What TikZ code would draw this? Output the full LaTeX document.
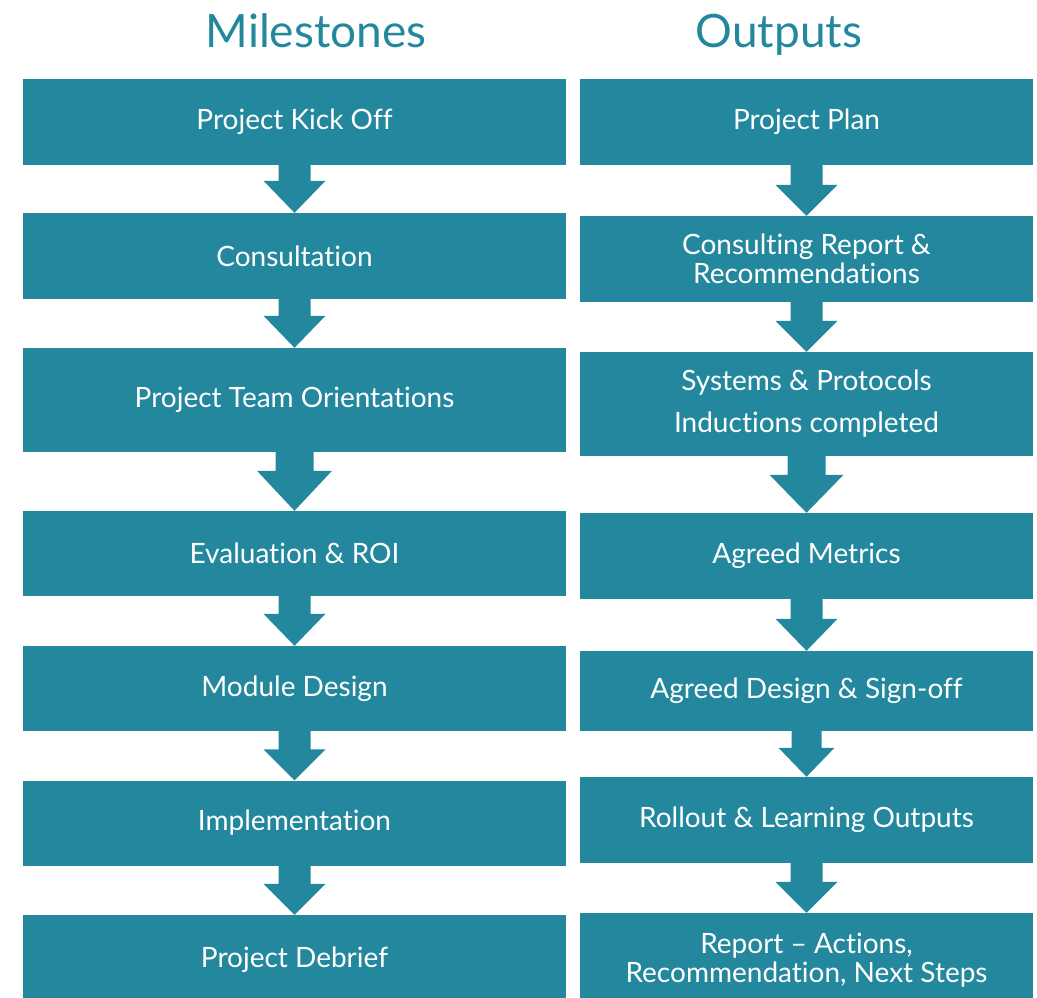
\documentclass[tikz,border=0pt]{standalone}
\usepackage{fontspec}
\setmainfont{Lato}[Ligatures=NoCommon]
\usetikzlibrary{calc}
\definecolor{tealc}{RGB}{35,136,157}
\tikzset{
  box/.style={rectangle, fill=tealc, draw=none, text=white, inner sep=0pt, align=center,
    font=\fontsize{28}{29}\selectfont},
  lbox/.style={box, minimum width=543pt},
  rbox/.style={box, minimum width=453pt},
  title/.style={text=tealc, font=\fontsize{46}{50}\selectfont, inner sep=0pt, anchor=base},
  arr/.style={fill=tealc, draw=none}
}
\newcommand\blockarrow[5]{%
  \path[arr] let \p1=(#1.south), \p2=(#2.north) in
    (\x1-#3pt,\y1+0.5pt) -- (\x1+#3pt,\y1+0.5pt) -- (\x1+#3pt,\y2+#5pt) -- (\x1+#4pt,\y2+#5pt)
    -- (\x1,\y2) -- (\x1-#4pt,\y2+#5pt) -- (\x1-#3pt,\y2+#5pt) -- cycle;}
\begin{document}
\begin{tikzpicture}[x=1pt,y=-1pt]
\useasboundingbox (0,0) rectangle (1037,997);
\clip (0,0) rectangle (1037,997);
\node[title] (t1) at (316,47) {Milestones};
\node[title] (t2) at (779,47) {Outputs};
% left column
\node[lbox, minimum height=86pt] (l1) at (294.5,122) {Project Kick Off};
\node[lbox, minimum height=86pt] (l2) at (294.5,256) {Consultation};
\node[lbox, minimum height=104pt] (l3) at (294.5,400) {Project Team Orientations};
\node[lbox, minimum height=85pt] (l4) at (294.5,553.5) {Evaluation \& ROI};
\node[lbox, minimum height=85pt] (l5) at (294.5,688.5) {Module Design};
\node[lbox, minimum height=85pt] (l6) at (294.5,823) {Implementation};
\node[lbox, minimum height=90pt] (l7) at (294.5,960) {Project Debrief};
% right column
\node[rbox, minimum height=86pt] (r1) at (806.5,122) {Project Plan};
\node[rbox, minimum height=86pt] (r2) at (806.5,259) {Consulting Report \&\\Recommendations};
\node[rbox, minimum height=104pt] (r3) at (806.5,404) {Systems \& Protocols\\[13pt]Inductions completed};
\node[rbox, minimum height=86pt] (r4) at (806.5,556) {Agreed Metrics};
\node[rbox, minimum height=80pt] (r5) at (806.5,691) {Agreed Design \& Sign-off};
\node[rbox, minimum height=86pt] (r6) at (806.5,820) {Rollout \& Learning Outputs};
\node[rbox, minimum height=90pt, text depth=0pt] (r7) at (806.5,958) {Report -- Actions,\\Recommendation, Next Steps};
% arrows left
\blockarrow{l1}{l2}{16}{31}{32}
\blockarrow{l2}{l3}{16}{31}{32}
\blockarrow{l3}{l4}{19}{37.5}{40}
\blockarrow{l4}{l5}{16}{31}{32}
\blockarrow{l5}{l6}{16}{31}{31}
\blockarrow{l6}{l7}{16}{31}{31}
% arrows right
\blockarrow{r1}{r2}{16}{31}{31}
\blockarrow{r2}{r3}{16}{31}{31}
\blockarrow{r3}{r4}{19}{37}{38}
\blockarrow{r4}{r5}{16}{31}{32}
\blockarrow{r5}{r6}{15}{28}{29}
\blockarrow{r6}{r7}{16}{31}{31}
\end{tikzpicture}
\end{document}
